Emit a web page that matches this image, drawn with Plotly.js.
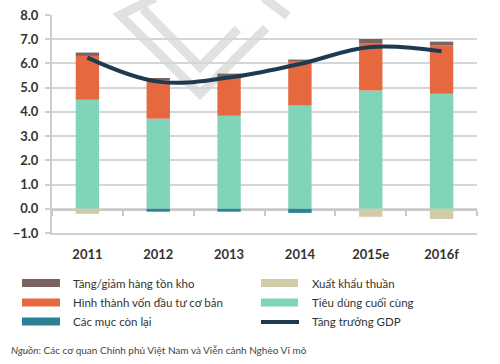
<!DOCTYPE html>
<html>
<head>
<meta charset="utf-8">
<script src="https://cdn.plot.ly/plotly-3.0.1.min.js"></script>
<style>html,body{margin:0;padding:0;background:#fff;}#chart{width:500px;height:364px;}</style>
</head>
<body>
<div id="chart"></div>
<script>
// ---- data ----
const years = ["2011", "2012", "2013", "2014", "2015e", "2016f"];
const tieuDung = [4.50, 3.72, 3.84, 4.26, 4.88, 4.75];      // Tiêu dùng cuối cùng
const hinhThanhVon = [1.81, 1.58, 1.60, 1.81, 1.94, 1.99];  // Hình thành vốn đầu tư cơ bản
const tonKho = [0.14, 0.10, 0.14, 0.09, 0.19, 0.16];        // Tăng/giảm hàng tồn kho
const xuatKhau = [-0.21, 0, 0, 0, -0.33, -0.42];            // Xuất khẩu thuần
const conLai = [0, -0.12, -0.12, -0.17, 0, 0];              // Các mục còn lại
const gdp = [6.24, 5.25, 5.42, 5.98, 6.68, 6.50];            // Tăng trưởng GDP
const yTicks = [-1, 0, 1, 2, 3, 4, 5, 6, 7, 8];

const names = {
  tonKho: "Tăng/giảm hàng tồn kho",
  hinhThanh: "Hình thành vốn đầu tư cơ bản",
  conLai: "Các mục còn lại",
  xuatKhau: "Xuất khẩu thuần",
  tieuDung: "Tiêu dùng cuối cùng",
  gdp: "Tăng trưởng GDP"
};
const colors = {
  tonKho: "#7a6462",
  hinhThanh: "#e5683f",
  conLai: "#2b8196",
  xuatKhau: "#cfcca8",
  tieuDung: "#7fd4ba",
  gdp: "#1e3a50"
};

// ---- layout geometry (pixels) ----
const W = 500, H = 364;
const L = 52, R = 477, T = 15, B = 233;
const fx = px => (px - L) / (R - L);
const fy = py => (B - py) / (B - T);

const FONT = "Lato, 'Open Sans', sans-serif";
const bw = 0.33;

function bar(y, key) {
  return {type: "bar", x: years, y: y, name: names[key], width: bw,
    marker: {color: colors[key], line: {width: 0}}, showlegend: false, hoverinfo: "skip"};
}

const traces = [
  bar(tieuDung, "tieuDung"),
  bar(hinhThanhVon, "hinhThanh"),
  bar(tonKho, "tonKho"),
  bar(xuatKhau, "xuatKhau"),
  bar(conLai, "conLai"),
  {type: "scatter", mode: "lines", x: years, y: gdp, name: names.gdp, xaxis: "x2",
   line: {color: colors.gdp, width: 4, shape: "spline", smoothing: 1.1}, showlegend: false, hoverinfo: "skip"}
];

// watermark (decorative) in pixel coords
const wm = [
  [[155, -2], [120, 15], [200, 94], [266, 28]],
  [[143, 9], [200, 67], [238, 29]],
  [[264, -2], [288, 16]]
];
const shapes = [];
wm.forEach(pts => {
  let d = "";
  pts.forEach((p, i) => { d += (i ? " L" : "M") + fx(p[0]).toFixed(4) + "," + fy(p[1]).toFixed(4); });
  shapes.push({type: "path", xref: "paper", yref: "paper", path: d, layer: "below",
    line: {color: "rgba(215,215,215,0.75)", width: 9}});
});

// manual legend
const legendRows = [283, 302.5, 321.5];
const legendItems = [
  {key: "tonKho", col: 0, row: 0},
  {key: "hinhThanh", col: 0, row: 1},
  {key: "conLai", col: 0, row: 2},
  {key: "xuatKhau", col: 1, row: 0},
  {key: "tieuDung", col: 1, row: 1},
  {key: "gdp", col: 1, row: 2}
];
const colX = [[22, 60, 71], [261, 298, 310]];
const annotations = [];
legendItems.forEach(it => {
  const cx = colX[it.col], cy = legendRows[it.row];
  if (it.key === "gdp") {
    shapes.push({type: "line", xref: "paper", yref: "paper", x0: fx(cx[0]), x1: fx(cx[1] + 1),
      y0: fy(cy + 0.5), y1: fy(cy + 0.5), line: {color: colors.gdp, width: 4}});
  } else {
    shapes.push({type: "rect", xref: "paper", yref: "paper", x0: fx(cx[0]), x1: fx(cx[1]),
      y0: fy(cy + 4), y1: fy(cy - 4), fillcolor: colors[it.key], line: {width: 0}});
  }
  annotations.push({xref: "paper", yref: "paper", x: fx(cx[2]), y: fy(cy), xanchor: "left", yanchor: "middle",
    text: names[it.key], showarrow: false, font: {family: FONT, size: 11.5, color: "#333333"}});
});
annotations.push({xref: "paper", yref: "paper", x: fx(9), y: fy(350), xanchor: "left", yanchor: "middle",
  text: "<i>Nguồn</i>: Các cơ quan Chính phủ Việt Nam và Viễn cảnh Nghèo Vĩ mô", showarrow: false,
  font: {family: FONT, size: 10, color: "#444444"}});

const layout = {
  width: W, height: H,
  margin: {l: L, r: W - R, t: T, b: H - B, pad: 0},
  paper_bgcolor: "#ffffff", plot_bgcolor: "#ffffff",
  barmode: "relative",
  showlegend: false,
  font: {family: FONT},
  xaxis: {type: "category", range: [-0.5, 5.5], showgrid: false, zeroline: false,
    showline: true, linecolor: "#d0d0d0", linewidth: 2, ticks: "", ticklabelstandoff: 8,
    tickfont: {family: FONT, size: 13, color: "#333333", weight: "bold"}, fixedrange: true},
  xaxis2: {type: "category", overlaying: "x", anchor: "free", position: fy(209.5), side: "bottom",
    layer: "below traces",
    range: [-0.5, 5.5], showgrid: false, zeroline: false, showline: true, linecolor: "#c8c8c8", linewidth: 2,
    ticks: "outside", ticklen: 5, tickwidth: 2, tickcolor: "#c8c8c8", tickson: "boundaries", showticklabels: false},
  yaxis: {range: [-1, 8], tickvals: yTicks, tickformat: ".1f", showgrid: true, gridcolor: "#d6d6d6", gridwidth: 2,
    zeroline: false, showline: true, linecolor: "#cfcfcf", linewidth: 2, ticks: "outside", ticklen: 5,
    tickcolor: "#cfcfcf", tickwidth: 2, ticklabelstandoff: 4, layer: "below traces",
    tickfont: {family: FONT, size: 13, color: "#333333", weight: "bold"}, fixedrange: true},
  shapes: shapes,
  annotations: annotations
};

Plotly.newPlot("chart", traces, layout, {displayModeBar: false, staticPlot: true});
</script>
</body>
</html>
